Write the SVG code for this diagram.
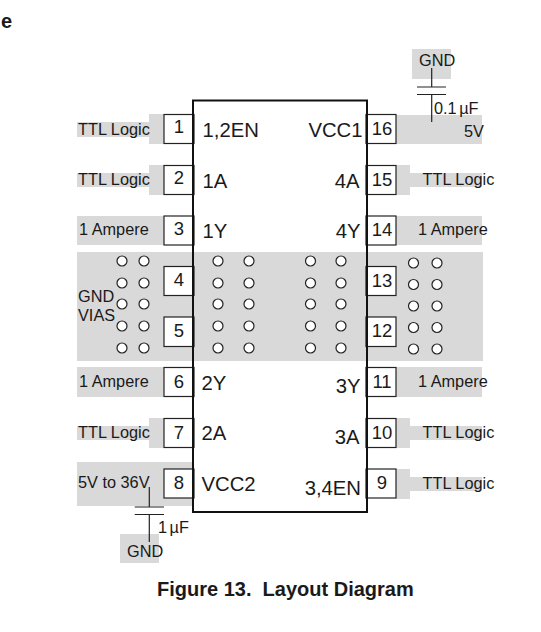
<svg xmlns="http://www.w3.org/2000/svg" width="541" height="632" viewBox="0 0 541 632">
<style>
text{font-family:"Liberation Sans",Arial,sans-serif;fill:#1a1a1a}
.g{fill:#d9d9d9;stroke:none}
.pin{fill:#fff;stroke:#222;stroke-width:1.2}
.num{font-size:18.500px;text-anchor:middle}
.lab{font-size:16.300px}
.name{font-size:20.300px}
.via{fill:#fff;stroke:#222;stroke-width:1.2}
.wire{stroke:#222;stroke-width:1.2;fill:none}
</style>
<g id="pads">
<rect class="g" x="77" y="122" width="87" height="15"/><rect class="g" x="149" y="114" width="15" height="30"/>
<rect class="g" x="77" y="173" width="87" height="14"/><rect class="g" x="149" y="165" width="15" height="30"/>
<rect class="g" x="77" y="216" width="87" height="29"/>
<rect class="g" x="77" y="252" width="406" height="109"/>
<rect class="g" x="77" y="367" width="87" height="30"/>
<rect class="g" x="77" y="426" width="87" height="14"/><rect class="g" x="149" y="418" width="15" height="30"/>
<rect class="g" x="77" y="462" width="116" height="44"/>
<rect class="g" x="120" y="534" width="39" height="29"/>
<rect class="g" x="412" y="49" width="39" height="30"/>
<rect class="g" x="396" y="115" width="86" height="29"/>
<rect class="g" x="396" y="165" width="14" height="30"/><rect class="g" x="396" y="173" width="86" height="14"/>
<rect class="g" x="396" y="216" width="86" height="29"/>
<rect class="g" x="396" y="367" width="86" height="30"/>
<rect class="g" x="396" y="418" width="14" height="30"/><rect class="g" x="396" y="426" width="86" height="14"/>
<rect class="g" x="396" y="469" width="14" height="30"/><rect class="g" x="396" y="477" width="86" height="14"/>
</g>
<g id="vias">
<g class="via">
<circle cx="122" cy="261" r="5"/><circle cx="144" cy="261" r="5"/><circle cx="122" cy="283" r="5"/><circle cx="144" cy="283" r="5"/><circle cx="122" cy="304" r="5"/><circle cx="144" cy="304" r="5"/><circle cx="122" cy="326" r="5"/><circle cx="144" cy="326" r="5"/><circle cx="122" cy="348" r="5"/><circle cx="144" cy="348" r="5"/>
<circle cx="218" cy="261" r="5"/><circle cx="249" cy="261" r="5"/><circle cx="218" cy="283" r="5"/><circle cx="249" cy="283" r="5"/><circle cx="218" cy="304" r="5"/><circle cx="249" cy="304" r="5"/><circle cx="218" cy="326" r="5"/><circle cx="249" cy="326" r="5"/><circle cx="218" cy="348" r="5"/><circle cx="249" cy="348" r="5"/>
<circle cx="310.500" cy="261" r="5"/><circle cx="341" cy="261" r="5"/><circle cx="310.500" cy="283" r="5"/><circle cx="341" cy="283" r="5"/><circle cx="310.500" cy="304" r="5"/><circle cx="341" cy="304" r="5"/><circle cx="310.500" cy="326" r="5"/><circle cx="341" cy="326" r="5"/><circle cx="310.500" cy="348" r="5"/><circle cx="341" cy="348" r="5"/>
<circle cx="413.500" cy="263" r="5"/><circle cx="437" cy="263" r="5"/><circle cx="413.500" cy="284.500" r="5"/><circle cx="437" cy="284.500" r="5"/><circle cx="413.500" cy="306" r="5"/><circle cx="437" cy="306" r="5"/><circle cx="413.500" cy="327.500" r="5"/><circle cx="437" cy="327.500" r="5"/><circle cx="413.500" cy="349" r="5"/><circle cx="437" cy="349" r="5"/>
</g>
</g>
<g id="connectors">
<path class="wire" d="M431.700 68V87M417 87H446M417 94.500H446M431.700 94.500V122"/>
<path class="wire" d="M149.300 487V507M134.700 507H164M134.700 514.500H164M149.300 514.500V542"/>
</g>
<g id="pin1"><rect class="pin" x="164" y="114.500" width="30" height="29"/><text class="num" x="179" y="133">1</text></g>
<g id="pin2"><rect class="pin" x="164" y="165.500" width="30" height="29"/><text class="num" x="179" y="184">2</text></g>
<g id="pin3"><rect class="pin" x="164" y="216" width="30" height="29"/><text class="num" x="179" y="235">3</text></g>
<g id="pin4"><rect class="pin" x="164" y="266.500" width="30" height="29"/><text class="num" x="179" y="286">4</text></g>
<g id="pin5"><rect class="pin" x="164" y="317" width="30" height="29.500"/><text class="num" x="179" y="337">5</text></g>
<g id="pin6"><rect class="pin" x="164" y="367.500" width="30" height="29"/><text class="num" x="179" y="388">6</text></g>
<g id="pin7"><rect class="pin" x="164" y="418.500" width="30" height="29"/><text class="num" x="179" y="439">7</text></g>
<g id="pin8"><rect class="pin" x="164" y="469" width="30" height="29"/><text class="num" x="179" y="489">8</text></g>
<g id="pin16"><rect class="pin" x="366" y="114.500" width="30" height="29"/><text class="num" x="382" y="135">16</text></g>
<g id="pin15"><rect class="pin" x="366" y="165.500" width="30" height="29"/><text class="num" x="382" y="186">15</text></g>
<g id="pin14"><rect class="pin" x="366" y="216" width="30" height="29"/><text class="num" x="382" y="236">14</text></g>
<g id="pin13"><rect class="pin" x="366" y="266.500" width="30" height="29"/><text class="num" x="382" y="287">13</text></g>
<g id="pin12"><rect class="pin" x="366" y="317" width="30" height="29.500"/><text class="num" x="382" y="337">12</text></g>
<g id="pin11"><rect class="pin" x="366" y="367.500" width="30" height="29"/><text class="num" x="382" y="388">11</text></g>
<g id="pin10"><rect class="pin" x="366" y="418.500" width="30" height="29"/><text class="num" x="382" y="439">10</text></g>
<g id="pin9"><rect class="pin" x="366" y="469" width="30" height="29"/><text class="num" x="382" y="489">9</text></g>
<g id="chip">
<rect x="193" y="100.500" width="174" height="411.500" fill="none" stroke="#111" stroke-width="2"/>
<text class="name" x="202.500" y="137">1,2EN</text>
<text class="name" x="202.500" y="188">1A</text>
<text class="name" x="202.500" y="238">1Y</text>
<text class="name" x="201.500" y="390">2Y</text>
<text class="name" x="201.500" y="440">2A</text>
<text class="name" x="201.500" y="491">VCC2</text>
<text class="name" x="362.500" y="137" text-anchor="end">VCC1</text>
<text class="name" x="359.500" y="188" text-anchor="end">4A</text>
<text class="name" x="360.500" y="238" text-anchor="end">4Y</text>
<text class="name" x="360.500" y="393" text-anchor="end">3Y</text>
<text class="name" x="359.500" y="444" text-anchor="end">3A</text>
<text class="name" x="361" y="495" text-anchor="end">3,4EN</text>
</g>
<g id="labels">
<text class="lab" x="78" y="135">TTL Logic</text>
<text class="lab" x="78" y="185">TTL Logic</text>
<text class="lab" x="79" y="235">1 Ampere</text>
<text class="lab" x="78" y="302">GND</text>
<text class="lab" x="78" y="321">VIAS</text>
<text class="lab" x="79" y="387">1 Ampere</text>
<text class="lab" x="78" y="438">TTL Logic</text>
<text class="lab" x="78" y="488">5V to 36V</text>
<text class="lab" x="127" y="557">GND</text>
<text class="lab" x="419" y="66">GND</text>
<text class="lab" x="434" y="114" word-spacing="-2">0.1 µF</text>
<text class="lab" x="158" y="533" word-spacing="-2">1 µF</text>
<text class="lab" x="464" y="137">5V</text>
<text class="lab" x="422.500" y="185">TTL Logic</text>
<text class="lab" x="418" y="235">1 Ampere</text>
<text class="lab" x="418" y="387">1 Ampere</text>
<text class="lab" x="422.500" y="438">TTL Logic</text>
<text class="lab" x="422.500" y="489">TTL Logic</text>
</g>
<text x="1" y="28" font-size="20" font-weight="bold">e</text>
<text x="157" y="596" font-size="20" font-weight="bold" xml:space="preserve">Figure 13.  Layout Diagram</text>
</svg>
